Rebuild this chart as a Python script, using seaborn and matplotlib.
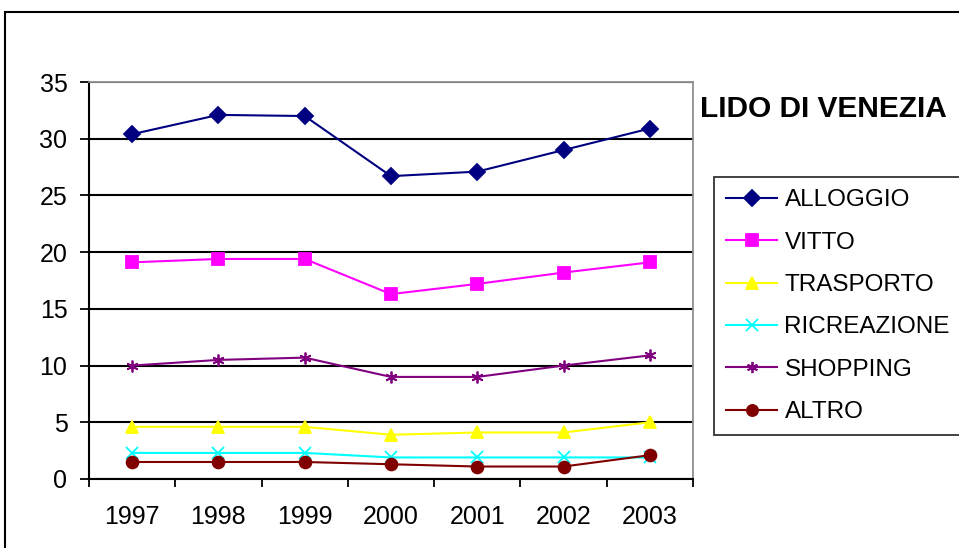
import numpy as np
import pandas as pd
import matplotlib
matplotlib.use('Agg')
import matplotlib.pyplot as plt
import seaborn as sns
from matplotlib.patches import Rectangle

anni = ['1997', '1998', '1999', '2000', '2001', '2002', '2003']
voci = ['ALLOGGIO', 'VITTO', 'TRASPORTO', 'RICREAZIONE', 'SHOPPING', 'ALTRO']

alloggio = [30.4, 32.1, 32.0, 26.7, 27.1, 29.0, 30.9]
vitto = [19.1, 19.4, 19.4, 16.3, 17.2, 18.2, 19.1]
trasporto = [4.6, 4.6, 4.6, 3.9, 4.1, 4.1, 5.0]
ricreazione = [2.3, 2.3, 2.3, 1.9, 1.9, 1.9, 1.9]
shopping = [10.0, 10.5, 10.7, 9.0, 9.0, 10.0, 10.9]
altro = [1.5, 1.5, 1.5, 1.3, 1.1, 1.1, 2.1]

colori = {'ALLOGGIO': '#000080', 'VITTO': '#FF00FF', 'TRASPORTO': '#FFFF00',
          'RICREAZIONE': '#00FFFF', 'SHOPPING': '#800080', 'ALTRO': '#800000'}
marcatori = {'ALLOGGIO': 'D', 'VITTO': 's', 'TRASPORTO': '^',
             'RICREAZIONE': 'x', 'SHOPPING': (6, 2, 0), 'ALTRO': 'o'}

serie = [alloggio, vitto, trasporto, ricreazione, shopping, altro]
df = pd.DataFrame({
    'pos': np.tile(np.arange(len(anni)), len(voci)),
    'valore': np.concatenate(serie),
    'voce': np.repeat(voci, len(anni)),
})

plt.rcParams['font.family'] = ['Liberation Sans', 'DejaVu Sans']

fig = plt.figure(figsize=(9.59, 5.48), dpi=100)
ax = fig.add_axes([89/959, 1-479/548, (693-89)/959, (479-82)/548])

# one call per series: seaborn won't mix filled and line-art markers
for voce in voci:
    sns.lineplot(data=df[df['voce'] == voce], x='pos', y='valore',
                 color=colori[voce], marker=marcatori[voce], markersize=8.5,
                 linewidth=1.5, label=voce, ax=ax)

for line in ax.lines:
    line.set_markeredgecolor(line.get_color())
    line.set_markeredgewidth(1.3)

handles, labels = ax.get_legend_handles_labels()
ax.get_legend().remove()

ax.set_xlim(-0.5, len(anni) - 0.5)
ax.set_ylim(0, 35)
ax.set_yticks(range(0, 36, 5))
ax.set_xticks(np.arange(-0.5, len(anni), 1.0))
ax.set_xticklabels([])
ax.set_xticks(np.arange(len(anni)), minor=True)
ax.set_xticklabels(anni, minor=True)
ax.tick_params(axis='x', which='minor', length=0, pad=19, labelsize=18)
ax.tick_params(axis='x', which='major', length=6, width=1.3, direction='out')
ax.tick_params(axis='y', length=6.5, width=1.3, labelsize=18, pad=9)
ax.set_xlabel('')
ax.set_ylabel('')
ax.grid(axis='y', color='black', linewidth=1.5)
ax.set_axisbelow(True)
for s in ['top', 'right']:
    ax.spines[s].set_color('#909090')
    ax.spines[s].set_linewidth(1.3)
for s in ['left', 'bottom']:
    ax.spines[s].set_linewidth(1.5)
    ax.spines[s].set_color('black')

fig.text(700/959, 1-109/548, 'LIDO DI VENEZIA', fontsize=21.5,
         fontweight='bold', va='center', ha='left')

leg = fig.legend(handles, labels, loc='upper left',
                 bbox_to_anchor=(714/959, 1-177/548), frameon=True,
                 fancybox=False, fontsize=17.5, handlelength=2.1,
                 labelspacing=0.84, borderpad=0.5, handletextpad=0.3,
                 borderaxespad=0)
leg.get_frame().set_edgecolor('black')
leg.get_frame().set_linewidth(1.3)
for h in leg.legend_handles:
    h.set_markeredgecolor(h.get_color())
    h.set_markersize(8)

fig.patches.append(Rectangle((5/959, -0.1), 2, 1 - 12/548 + 0.1,
                             transform=fig.transFigure, fill=False,
                             edgecolor='black', linewidth=1.5))

fig.savefig('out.png', dpi=100)
